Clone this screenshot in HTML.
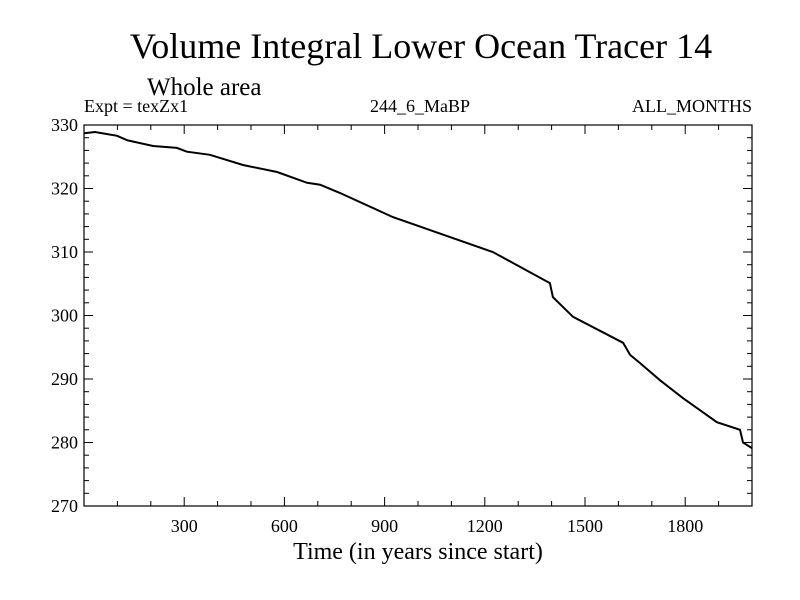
<!DOCTYPE html>
<html><head><meta charset="utf-8"><style>
html,body{margin:0;padding:0;background:#fff;}
svg{display:block;font-family:"Liberation Serif",serif;}
</style></head><body>
<svg id="chart" width="800" height="600">
<text x="421" y="58" font-size="36" text-anchor="middle">Volume Integral Lower Ocean Tracer 14</text>
<text x="147" y="95" font-size="25">Whole area</text>
<text x="84" y="112" font-size="18">Expt = texZx1</text>
<text x="420" y="112" font-size="18" text-anchor="middle">244_6_MaBP</text>
<text x="752" y="112" font-size="18" text-anchor="end">ALL_MONTHS</text>
<text x="418" y="559" font-size="24" text-anchor="middle">Time (in years since start)</text>
<g id="axes"></g>
<path id="line" fill="none" stroke="#000" stroke-width="2"/>
<rect x="84" y="125" width="668" height="381" fill="none" stroke="#000" stroke-width="1.2"/>
</svg>
<script>
const years=[0,33,99,129,207,278,308,377,476,578,668,707,766,925,1224,1395,1404,1464,1614,1635,1665,1725,1793,1895,1964,1973,2000];
const values=[328.7,328.9,328.3,327.6,326.7,326.4,325.8,325.3,323.7,322.6,320.9,320.6,319.3,315.5,310,305.1,302.9,299.8,295.7,293.8,292.5,289.8,287,283.2,282,280,279.1];
const xTicks=[300,600,900,1200,1500,1800];
const yTicks=[270,280,290,300,310,320,330];
const X0=84,X1=752,Y0=506,Y1=125;
const xs=v=>X0+(v-0)/2000*(X1-X0);
const ys=v=>Y0-(v-270)/60*(Y0-Y1);
const ns="http://www.w3.org/2000/svg";
const g=document.getElementById('axes');
function ln(x1,y1,x2,y2){const l=document.createElementNS(ns,'line');l.setAttribute('x1',x1);l.setAttribute('y1',y1);l.setAttribute('x2',x2);l.setAttribute('y2',y2);l.setAttribute('stroke','#000');


g.appendChild(l);}
function tx(x,y,s,a){const t=document.createElementNS(ns,'text');t.setAttribute('x',x);t.setAttribute('y',y);t.setAttribute('font-size','18');t.setAttribute('text-anchor',a);t.textContent=s;


g.appendChild(t);}
for(let v=100;v<2000;v+=100){const x=xs(v),L=(v%300===0)?9:5;ln(x,Y0,x,Y0-L);ln(x,Y1,x,Y1+L);}
xTicks.forEach(v=>tx(xs(v),Y0+26,String(v),'middle'));
for(let v=272;v<330;v+=2){const y=ys(v),L=(v%10===0)?9:5;ln(X0,y,X0+L,y);ln(X1,y,X1-L,y);}
yTicks.forEach(v=>tx(X0-6,ys(v)+6,String(v),'end'));
document.getElementById('line').setAttribute('d',years.map((v,i)=>(i?'L':'M')+xs(v).toFixed(1)+','+ys(values[i]).toFixed(1)).join(''));
</script>
</body></html>
